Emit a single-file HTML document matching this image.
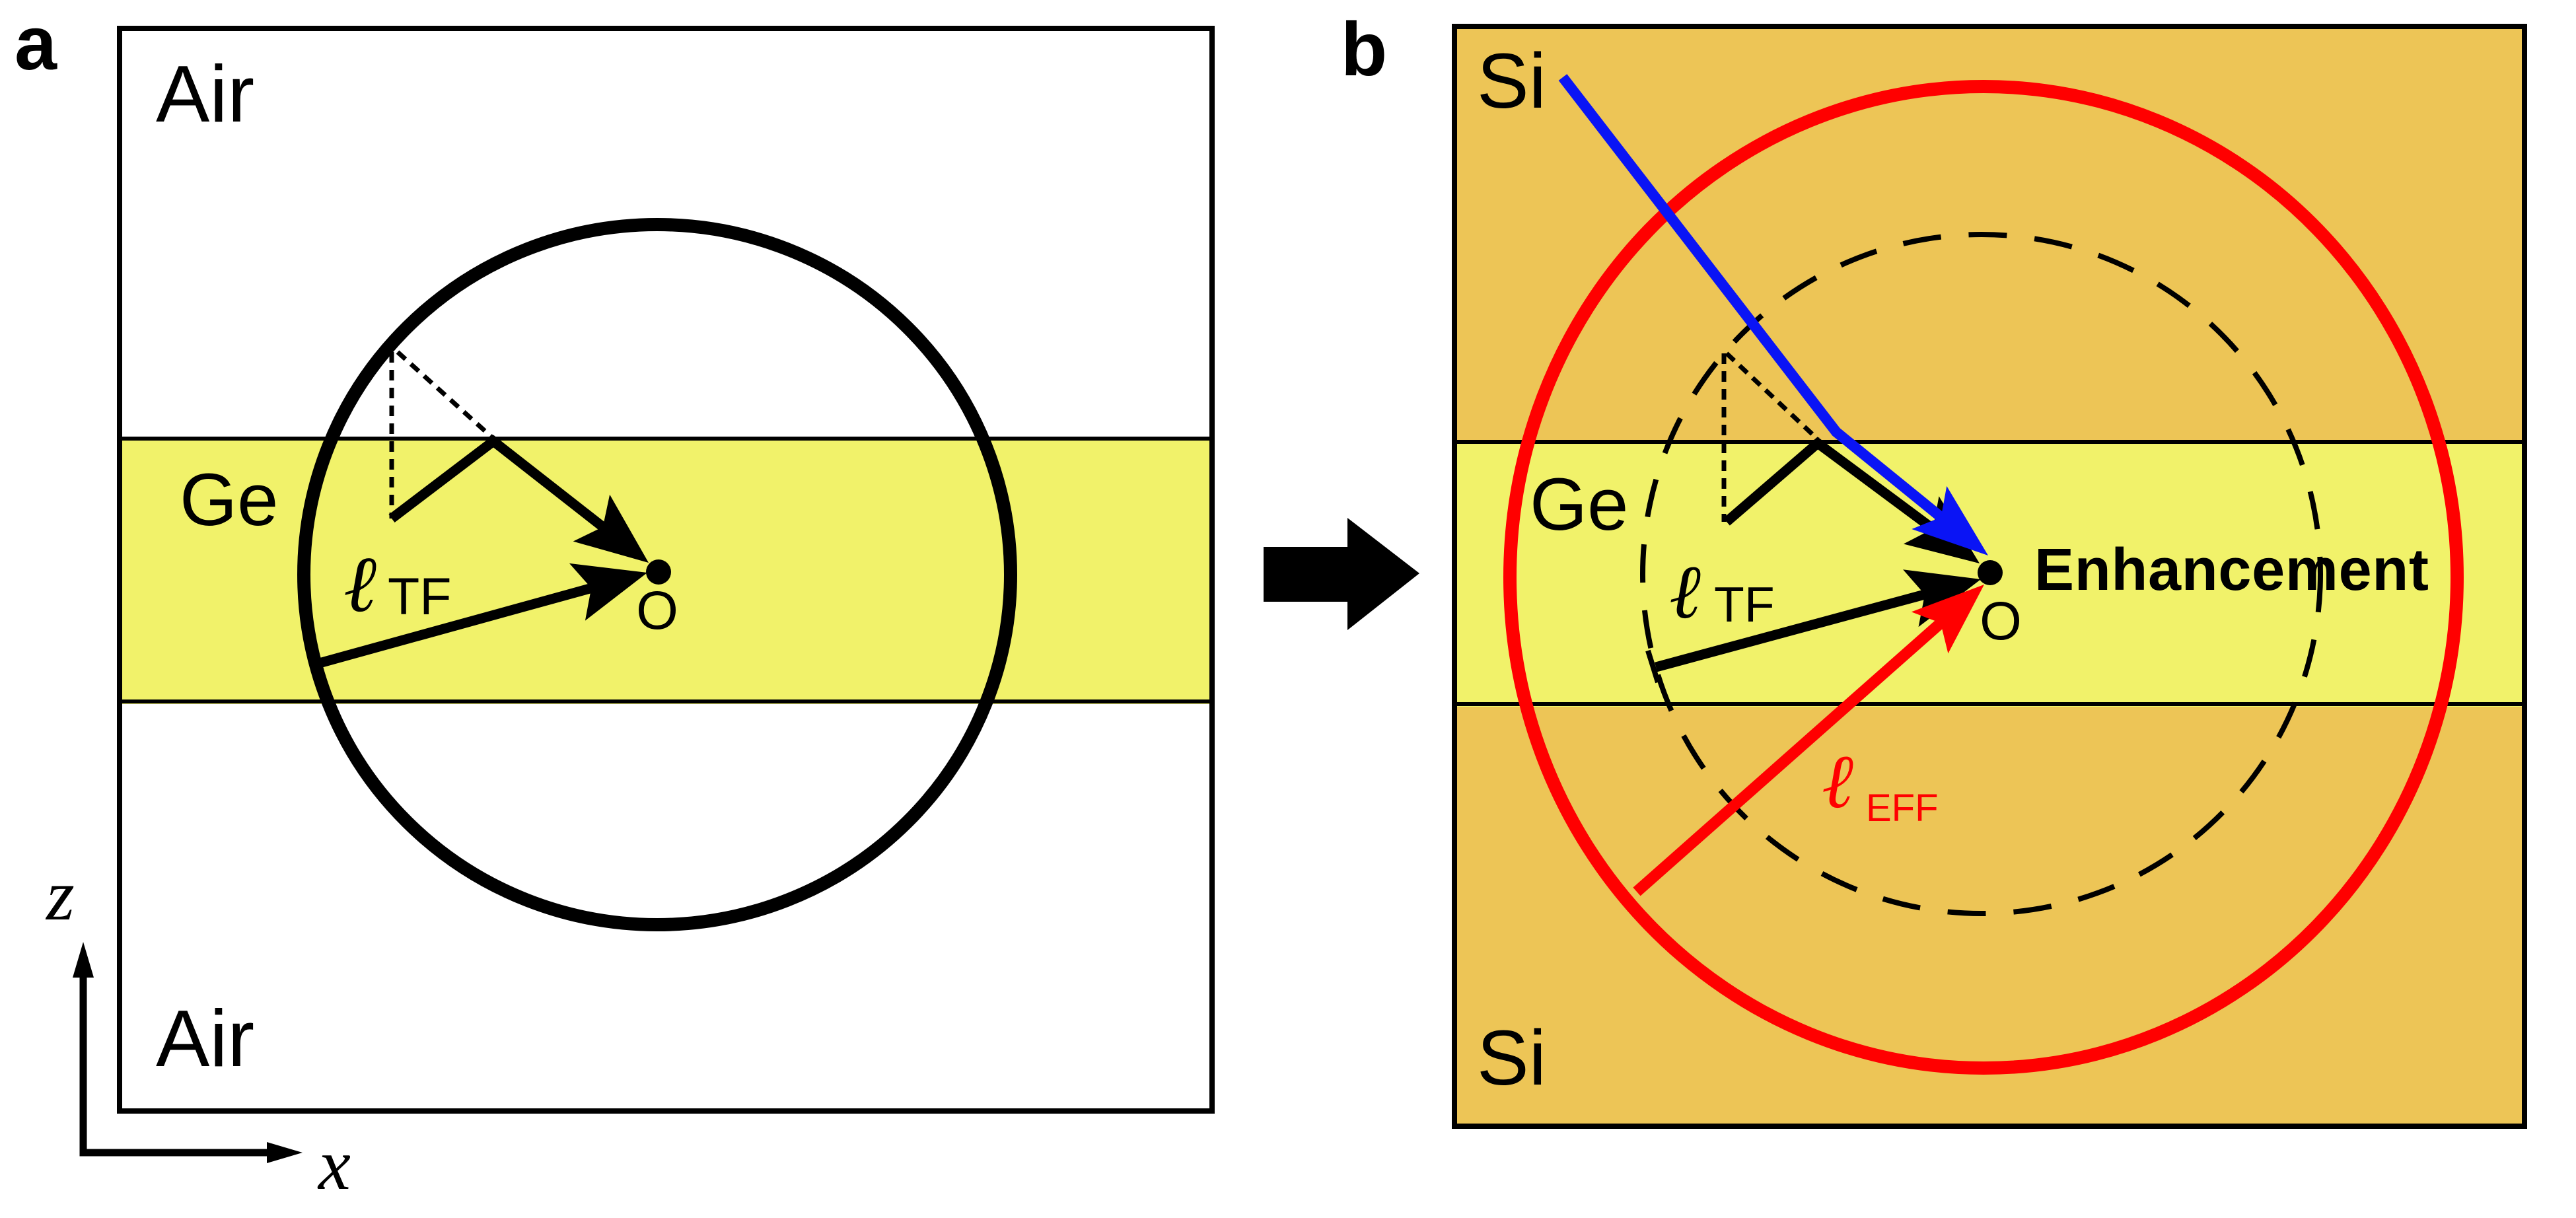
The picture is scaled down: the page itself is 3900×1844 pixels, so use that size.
<!DOCTYPE html>
<html><head><meta charset="utf-8"><style>
html,body{margin:0;padding:0;background:#fff;}
svg{display:block;}
text{font-family:"Liberation Sans",sans-serif;}
text.ell{font-family:"DejaVu Serif","Liberation Serif",serif;font-style:italic;}
text.ax{font-family:"Liberation Serif",serif;font-style:italic;}
</style></head><body>
<svg id="fig" width="3900" height="1844" viewBox="0 0 3900 1844" xmlns="http://www.w3.org/2000/svg">
<g>
<text x="22" y="105" font-size="115" font-weight="bold">a</text>
<rect x="181" y="43" width="1654" height="1639" fill="#fff" stroke="#000" stroke-width="8"/>
<rect x="185" y="664" width="1646" height="402" fill="#f1f26a"/>
<line x1="181" y1="664" x2="1835" y2="664" stroke="#000" stroke-width="6"/>
<line x1="181" y1="1062" x2="1835" y2="1062" stroke="#000" stroke-width="6"/>
<ellipse cx="995" cy="870" rx="535" ry="530" fill="none" stroke="#000" stroke-width="20"/>
<text x="236" y="184" font-size="122">Air</text>
<text x="236" y="1614" font-size="122">Air</text>
<text x="272" y="795" font-size="112">Ge</text>
<line x1="593" y1="533" x2="593" y2="785" stroke="#000" stroke-width="7" stroke-dasharray="16,11"/>
<line x1="602" y1="533" x2="747" y2="664" stroke="#000" stroke-width="7" stroke-dasharray="16,11"/>
<g id="arrowsA"></g>
<circle cx="997" cy="866" r="19" fill="#000"/>
<text x="995" y="952" font-size="82" text-anchor="middle">O</text>
<text x="520" y="925" font-size="120" class="ell">ℓ</text>
<text x="587" y="930" font-size="79">TF</text>
<g>
<polyline points="126,1450 126,1745 420,1745" fill="none" stroke="#000" stroke-width="11"/>
<polygon points="126,1426 110,1480 142,1480" fill="#000"/>
<polygon points="458,1745 404,1729 404,1761" fill="#000"/>
<text x="70" y="1392" font-size="110" class="ax">z</text>
<text x="482" y="1800" font-size="110" class="ax">x</text>
</g>
</g>
<polygon points="1913,828 2040,828 2040,784 2149,868 2040,954 2040,911 1913,911" fill="#000"/>
<g>
<text x="2030" y="114" font-size="115" font-weight="bold">b</text>
<rect x="2202" y="40" width="1620" height="1665" fill="#edc556" stroke="#000" stroke-width="8"/>
<rect x="2206" y="670" width="1612" height="400" fill="#f1f26a"/>
<line x1="2202" y1="669" x2="3822" y2="669" stroke="#000" stroke-width="6"/>
<line x1="2202" y1="1066" x2="3822" y2="1066" stroke="#000" stroke-width="6"/>
<ellipse cx="3000" cy="869" rx="513" ry="514" fill="none" stroke="#000" stroke-width="8" stroke-dasharray="58,42"/>
<ellipse cx="3003" cy="874" rx="717" ry="743" fill="none" stroke="#ff0000" stroke-width="20"/>
<text x="2236" y="163" font-size="118">Si</text>
<text x="2236" y="1642" font-size="118">Si</text>
<text x="2316" y="802" font-size="112">Ge</text>
<line x1="2610" y1="535" x2="2610" y2="790" stroke="#000" stroke-width="7" stroke-dasharray="16,11"/>
<line x1="2614" y1="535" x2="2752" y2="665" stroke="#000" stroke-width="7" stroke-dasharray="16,11"/>
<g id="arrowsB"></g>
<circle cx="3013" cy="867" r="19" fill="#000"/>
<text x="3029" y="968" font-size="82" text-anchor="middle">O</text>
<text x="3080" y="893" font-size="90" font-weight="bold" textLength="597">Enhancement</text>
<text x="2527" y="935" font-size="115" class="ell">ℓ</text>
<text x="2595" y="941" font-size="75">TF</text>
<text x="2758" y="1222" font-size="115" class="ell" fill="#ff0000">ℓ</text>
<text x="2825" y="1243" font-size="58" fill="#ff0000">EFF</text>
</g>
</svg>
<script>
var NS = "http://www.w3.org/2000/svg";
function arrow(group, pts, color, w, hl, hw, name) {
  var g = document.createElementNS(NS, "g");
  
  
  var n = pts.length;
  var tx = pts[n-1][0], ty = pts[n-1][1];
  var px = pts[n-2][0], py = pts[n-2][1];
  var dx = tx - px, dy = ty - py, L = Math.sqrt(dx*dx + dy*dy);
  var ux = dx / L, uy = dy / L;
  var bx = tx - ux*hl, by = ty - uy*hl;
  var linePts = pts.slice(0, n-1).map(function(p){return p.join(",");});
  linePts.push((tx - ux*hl*0.7) + "," + (ty - uy*hl*0.7));
  var pl = document.createElementNS(NS, "polyline");
  pl.setAttribute("points", linePts.join(" "));
  pl.setAttribute("fill", "none");
  pl.setAttribute("stroke", color);
  pl.setAttribute("stroke-width", w);
  
  
  g.appendChild(pl);
  var hd = document.createElementNS(NS, "polygon");
  var nx = -uy, ny = ux;
  var ix = tx - ux*hl*0.8, iy = ty - uy*hl*0.8;
  hd.setAttribute("points", tx+","+ty+" "+(bx+nx*hw)+","+(by+ny*hw)+" "+ix+","+iy+" "+(bx-nx*hw)+","+(by-ny*hw));
  hd.setAttribute("fill", color);
  
  
  g.appendChild(hd);
  group.appendChild(g);
}
var gA = document.getElementById("arrowsA");
arrow(gA, [[593,785],[747,668],[982,852]], "#000", 15, 110, 45, "reflected-path-arrow-a");
arrow(gA, [[487,1003],[980,867]], "#000", 15, 110, 45, "direct-path-arrow-a");
var gB = document.getElementById("arrowsB");
arrow(gB, [[2614,790],[2752,671],[2997,853]], "#000", 15, 110, 45, "reflected-path-arrow-b");
arrow(gB, [[2366,117],[2780,654],[3010,841]], "#0a14f5", 16, 115, 42, "si-path-arrow");
arrow(gB, [[2507,1010],[2999,877]], "#000", 15, 110, 45, "direct-path-arrow-b");
arrow(gB, [[2478,1350],[3004,885]], "#ff0000", 17, 110, 42, "eff-arrow");
var tick = document.createElementNS(NS, "line");
tick.setAttribute("x1", "2495"); tick.setAttribute("y1", "985");
tick.setAttribute("x2", "2510"); tick.setAttribute("y2", "1033");
tick.setAttribute("stroke", "#000"); tick.setAttribute("stroke-width", "8");


gB.appendChild(tick);
</script>
</body></html>
